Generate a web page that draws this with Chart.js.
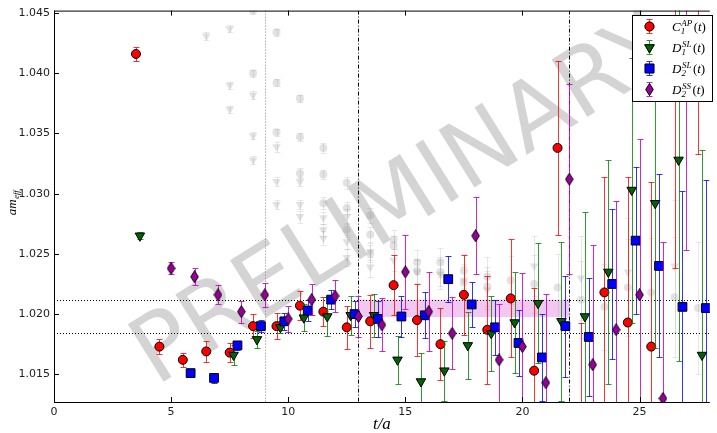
<!DOCTYPE html>
<html><head><meta charset="utf-8">
<script src="https://cdn.jsdelivr.net/npm/chart.js@4/dist/chart.umd.min.js"></script>
<style>html,body{margin:0;padding:0;background:#fff;}canvas{display:block;}</style>
</head><body>
<canvas id="c" width="717" height="433" style="width:717px;height:433px"></canvas>
<script>
// ---- data ----
const tValues = [3,4,5,6,7,8,9,10,11,12,13,14,15,16,17,18,19,20,21,22,23,24,25,26,27];
const c1apValues = [1.0416,1.0173,1.0162,1.0169,1.0168,1.0190,1.0190,1.0207,1.0202,1.0189,1.0194,1.0224,1.0195,1.0175,1.0216,1.0187,1.0213,1.0153,1.0338,1.0121,1.0218,1.0193,1.0173,1.0400,1.0480];
const c1apErrors = [0.0006,0.0006,0.0006,0.0009,0.0008,0.0010,0.0011,0.0012,0.0012,0.0018,0.0022,0.0025,0.0030,0.0030,0.0033,0.0045,0.0049,0.0069,0.0072,0.0072,0.0096,0.0121,0.0137,0.0162,0.0147];
const d1slValues = [1.0265,null,null,null,1.0166,1.0179,1.0189,1.0197,1.0198,1.0199,1.0199,1.0162,1.0144,1.0153,1.0174,1.0184,1.0193,1.0209,1.0194,1.0198,1.0235,1.0303,1.0292,1.0328,1.0166];
const d1slErrors = [0.0003,null,null,null,0.0008,0.0007,0.0005,0.0011,0.0016,0.0016,0.0018,0.0020,0.0024,0.0025,0.0028,0.0031,0.0042,0.0050,0.0066,0.0087,0.0093,0.0110,0.0120,0.0167,0.0170];
const d2slValues = [null,null,1.0151,1.0147,1.0174,1.0190,1.0194,1.0203,1.0212,1.0200,1.0196,1.0198,1.0199,1.0229,1.0208,1.0189,1.0176,1.0164,1.0190,1.0181,1.0225,1.0261,1.0240,1.0206,1.0205];
const d2slErrors = [null,null,0.0002,0.0004,0.0004,0.0005,0.0007,0.0009,0.0008,0.0011,0.0015,0.0017,0.0019,0.0019,0.0019,0.0023,0.0027,0.0036,0.0042,0.0049,0.0062,0.0061,0.0076,0.0096,0.0106];
const d2ssValues = [null,1.0238,1.0231,1.0216,1.0202,1.0216,1.0196,1.0212,1.0215,1.0198,1.0191,1.0235,1.0202,1.0184,1.0265,1.0162,1.0173,1.0143,1.0312,1.0158,1.0187,1.0216,1.0130,1.0410,null];
const d2ssErrors = [null,0.0005,0.0007,0.0008,0.0009,0.0010,0.0011,0.0013,0.0013,0.0017,0.0022,0.0031,0.0033,0.0030,0.0032,0.0046,0.0061,0.0074,0.0079,0.0099,0.0107,0.0129,0.0130,0.0157,null];

// faded background points
const ghostCircleT = [8.5,8.5,9.5,9.5,9.5,10.5,10.5,10.5,11.5,11.5,11.5,12.5,12.5,12.5,13.5,13.5,13.5,14.5,14.5,15.5,15.5,16.5,16.5,17.5,17.5,18.5,18.5,19.5,20.5,21.5,22.5,23.5,24.5,25.5,26.5,27.5];
const ghostCircleV = [1.0452,1.0400,1.0434,1.0392,1.0351,1.0379,1.0347,1.0317,1.0338,1.0316,1.0292,1.0309,1.0288,1.0270,1.0282,1.0266,1.0250,1.0262,1.0257,1.0243,1.0236,1.0243,1.0235,1.0236,1.0226,1.0231,1.0223,1.0228,1.0225,1.0222,1.0212,1.0206,1.0222,1.0218,1.0214,1.0205];
const ghostCircleE = [0.0003,0.0003,0.0003,0.0003,0.0003,0.0003,0.0003,0.0004,0.0004,0.0004,0.0005,0.0005,0.0005,0.0006,0.0006,0.0006,0.0007,0.0008,0.0008,0.0010,0.0010,0.0012,0.0012,0.0014,0.0014,0.0016,0.0016,0.0020,0.0024,0.0028,0.0032,0.0036,0.0040,0.0045,0.0050,0.0055];
const ghostTriT = [6.5,7.5,7.5,7.5,8.5,8.5,8.5,9.5,9.5,9.5,10.5,10.5,10.5,11.5,11.5,11.5,12.5,12.5,12.5,13.5,13.5,14.5,15.5,16.5,17.5,18.5,20.5,22.5,24.5,26.5];
const ghostTriV = [1.0431,1.0437,1.0390,1.0370,1.0382,1.0348,1.0328,1.0339,1.0310,1.0291,1.0310,1.0291,1.0281,1.0280,1.0270,1.0263,1.0281,1.0260,1.0247,1.0252,1.0239,1.0245,1.0235,1.0233,1.0228,1.0220,1.0240,1.0230,1.0235,1.0240];
const ghostTriE = [0.0003,0.0003,0.0003,0.0003,0.0003,0.0003,0.0003,0.0004,0.0004,0.0004,0.0004,0.0004,0.0005,0.0005,0.0005,0.0006,0.0006,0.0006,0.0007,0.0007,0.0008,0.0009,0.0010,0.0012,0.0014,0.0016,0.0025,0.0035,0.0045,0.0055];

// fit window and band
const fitRange = [13, 22];
const plateauBand = [1.01975, 1.0212];
const refLevels = [1.0212, 1.0184];
const cutLine = 9;
const xTickLabels = [0,5,10,15,20,25];
const yTickLabels = [1.015,1.020,1.025,1.030,1.035,1.040,1.045];
const legendLabels = [
  {base:'C', sub:'1', sup:'AP'},
  {base:'D', sub:'1', sup:'SL'},
  {base:'D', sub:'2', sup:'SL'},
  {base:'D', sub:'2', sup:'SS'}
];

// ---- build datasets ----
function build(vals, errs, off){
  const data=[], e=[];
  tValues.forEach((t,i)=>{ if(vals[i]!==null){ data.push({x:t+off,y:vals[i]}); e.push(errs[i]); } });
  return {data, e};
}
function buildPairs(T,V,E){ return {data:T.map((t,i)=>({x:t,y:V[i]})), e:E.slice()}; }

function diamondCanvas(){
  const c=document.createElement('canvas'); c.width=9; c.height=13;
  const g=c.getContext('2d');
  g.beginPath(); g.moveTo(4.5,0.5); g.lineTo(8.3,6.5); g.lineTo(4.5,12.5); g.lineTo(0.7,6.5); g.closePath();
  g.fillStyle='#990099'; g.fill(); g.strokeStyle='#000'; g.lineWidth=1; g.stroke();
  return c;
}
const diamond = diamondCanvas();

const sRed = build(c1apValues, c1apErrors, 0.5);
const sGreen = build(d1slValues, d1slErrors, 0.667);
const sBlue = build(d2slValues, d2slErrors, 0.833);
const sPurple = build(d2ssValues, d2ssErrors, 1.0);
const gC = buildPairs(ghostCircleT, ghostCircleV, ghostCircleE);
const gT = buildPairs(ghostTriT, ghostTriV, ghostTriE);

const datasets = [
  {label:'D2SS', data:sPurple.data, errs:sPurple.e, errColor:'rgba(200,0,200,0.85)', pointStyle:diamond, pointRadius:6, showLine:false},
  {label:'D2SL', data:sBlue.data, errs:sBlue.e, errColor:'rgba(0,0,255,0.8)', pointStyle:'rect', pointRadius:6.2, backgroundColor:'#0000ff', borderColor:'#000', borderWidth:1, showLine:false},
  {label:'D1SL', data:sGreen.data, errs:sGreen.e, errColor:'rgba(0,128,0,0.8)', pointStyle:'triangle', rotation:180, pointRadius:5.5, backgroundColor:'#006400', borderColor:'#000', borderWidth:1, showLine:false},
  {label:'C1AP', data:sRed.data, errs:sRed.e, errColor:'rgba(255,0,0,0.8)', pointStyle:'circle', pointRadius:4.5, backgroundColor:'#ff0000', borderColor:'#000', borderWidth:1, showLine:false},
  {label:'gc', data:gC.data, errs:gC.e, errColor:'rgba(150,150,150,0.22)', pointStyle:'circle', pointRadius:4, backgroundColor:'rgba(150,150,150,0.28)', borderColor:'rgba(150,150,150,0.0)', borderWidth:0, showLine:false},
  {label:'gt', data:gT.data, errs:gT.e, errColor:'rgba(150,150,150,0.22)', pointStyle:'triangle', rotation:180, pointRadius:5, backgroundColor:'rgba(150,150,150,0.28)', borderColor:'rgba(150,150,150,0.0)', borderWidth:0, showLine:false}
];

const deco = {
  id:'deco',
  beforeDatasetsDraw(chart){
    const {ctx, chartArea:a, scales:{x,y}} = chart;
    ctx.save();
    ctx.beginPath(); ctx.rect(a.left,a.top,a.right-a.left,a.bottom-a.top); ctx.clip();
    // watermark
    ctx.save();
    ctx.translate(404, 203);
    ctx.rotate(-32*Math.PI/180);
    ctx.font = '93px "DejaVu Sans"';
    ctx.textAlign='center'; ctx.textBaseline='middle';
    ctx.fillStyle='rgba(0,0,0,0.17)';
    ctx.fillText('PRELIMINARY',0,0);
    ctx.restore();
    // band
    const bx1=x.getPixelForValue(fitRange[0]), bx2=x.getPixelForValue(fitRange[1]);
    const by1=y.getPixelForValue(plateauBand[1]), by2=y.getPixelForValue(plateauBand[0]);
    ctx.fillStyle='rgba(215,110,215,0.38)';
    ctx.fillRect(bx1,by1,bx2-bx1,by2-by1);
    // horizontal dotted
    ctx.strokeStyle='#000'; ctx.lineWidth=1; ctx.setLineDash([1,2]);
    refLevels.forEach(v=>{ const py=Math.round(y.getPixelForValue(v))+0.5; ctx.beginPath(); ctx.moveTo(a.left,py); ctx.lineTo(a.right,py); ctx.stroke(); });
    // grey vertical
    ctx.strokeStyle='#888'; ctx.setLineDash([1,2]);
    let px=Math.round(x.getPixelForValue(cutLine))+0.5; ctx.beginPath(); ctx.moveTo(px,a.top); ctx.lineTo(px,a.bottom); ctx.stroke();
    // dash-dot verticals
    ctx.strokeStyle='#000'; ctx.setLineDash([4,2,1,2]);
    fitRange.forEach(v=>{ const p=Math.round(x.getPixelForValue(v))+0.5; ctx.beginPath(); ctx.moveTo(p,a.top); ctx.lineTo(p,a.bottom); ctx.stroke(); });
    ctx.restore();
  },
  beforeDatasetDraw(chart, args){
    const ds = chart.data.datasets[args.index];
    if(!ds.errs) return;
    const {ctx, chartArea:a, scales:{x,y}} = chart;
    ctx.save();
    ctx.beginPath(); ctx.rect(a.left,a.top,a.right-a.left,a.bottom-a.top); ctx.clip();
    ctx.strokeStyle = ds.errColor; ctx.lineWidth=1; ctx.setLineDash([]);
    ds.data.forEach((p,i)=>{
      const e = ds.errs[i]; if(e==null) return;
      const px = Math.round(x.getPixelForValue(p.x))+0.5;
      const y1 = Math.round(y.getPixelForValue(p.y+e))+0.5, y2 = Math.round(y.getPixelForValue(p.y-e))+0.5;
      ctx.beginPath();
      ctx.moveTo(px,y1); ctx.lineTo(px,y2);
      ctx.moveTo(px-3,y1); ctx.lineTo(px+3,y1);
      ctx.moveTo(px-3,y2); ctx.lineTo(px+3,y2);
      ctx.stroke();
    });
    ctx.restore();
  },
  afterDraw(chart){
    const {ctx, chartArea:a, scales:{x,y}} = chart;
    ctx.save();
    ctx.strokeStyle='#000'; ctx.lineWidth=1; ctx.setLineDash([]);
    // frame
    ctx.beginPath();
    ctx.moveTo(a.left+0.5,a.top+0.5); ctx.lineTo(a.right,a.top+0.5);
    ctx.moveTo(a.left+0.5,a.top); ctx.lineTo(a.left+0.5,a.bottom+0.5);
    ctx.moveTo(a.left,a.bottom+0.5); ctx.lineTo(a.right,a.bottom+0.5);
    ctx.stroke();
    // inward ticks
    ctx.beginPath();
    x.ticks.forEach(t=>{ const p=Math.round(x.getPixelForValue(t.value))+0.5; ctx.moveTo(p,a.bottom); ctx.lineTo(p,a.bottom-5); ctx.moveTo(p,a.top); ctx.lineTo(p,a.top+5); });
    y.ticks.forEach(t=>{ const p=Math.round(y.getPixelForValue(t.value))+0.5; ctx.moveTo(a.left,p); ctx.lineTo(a.left+5,p); });
    ctx.stroke();
    // axis titles
    ctx.fillStyle='#000';
    ctx.font='italic 17px "Liberation Serif"'; ctx.textAlign='center'; ctx.textBaseline='alphabetic';
    ctx.fillText('t/a',(a.left+a.right)/2,429);
    ctx.save();
    ctx.translate(16,203); ctx.rotate(-Math.PI/2);
    ctx.font='italic 13px "Liberation Serif"';
    const wam=ctx.measureText('am').width;
    ctx.font='italic 8.5px "Liberation Serif"';
    const weff=ctx.measureText('eff').width;
    const x0=-(wam+weff)/2;
    ctx.textAlign='left';
    ctx.font='italic 13px "Liberation Serif"'; ctx.fillText('am',x0,0);
    ctx.font='italic 8.5px "Liberation Serif"'; ctx.fillText('eff',x0+wam+0.5,3);
    ctx.restore();
    // legend
    ctx.fillStyle='#fff'; ctx.fillRect(632.5,15.5,80,86);
    ctx.strokeStyle='#000'; ctx.strokeRect(632.5,15.5,80,86);
    const rows=[26.5,47.5,68.5,89.5];
    const metas=[3,2,1,0];
    rows.forEach((ry,i)=>{
      const ds=chart.data.datasets[metas[i]];
      const mx=649.5;
      ctx.strokeStyle=ds.errColor; ctx.lineWidth=1;
      ctx.beginPath(); ctx.moveTo(mx,ry-7); ctx.lineTo(mx,ry+7);
      ctx.moveTo(mx-3,ry-7); ctx.lineTo(mx+3,ry-7); ctx.moveTo(mx-3,ry+7); ctx.lineTo(mx+3,ry+7); ctx.stroke();
      if(ds.pointStyle===diamond){ ctx.drawImage(diamond, mx-4.5, ry-6.5); }
      else {
        Chart.helpers.drawPoint(ctx, {pointStyle:ds.pointStyle, rotation:ds.rotation||0, radius:ds.pointRadius, borderWidth:1}, mx, ry);
        ctx.fillStyle=ds.backgroundColor; ctx.strokeStyle='#000'; ctx.lineWidth=1; ctx.fill(); ctx.stroke();
      }
      const L=legendLabels[i];
      ctx.fillStyle='#000'; ctx.textAlign='left'; ctx.textBaseline='alphabetic';
      ctx.font='italic 13px "Liberation Serif"';
      const bx=672; ctx.fillText(L.base,bx,ry+4.5);
      const wb=ctx.measureText(L.base).width;
      ctx.font='italic 9px "Liberation Serif"';
      ctx.fillText(L.sup,bx+wb+0.5,ry-0.5);
      const ws=ctx.measureText(L.sup).width;
      ctx.fillText(L.sub,bx+wb,ry+7.5);
      ctx.font='13px "Liberation Serif"';
      const tx=bx+wb+0.5+ws+1.5;
      ctx.fillText('(',tx,ry+4.5);
      const w1=ctx.measureText('(').width;
      ctx.font='italic 13px "Liberation Serif"'; ctx.fillText('t',tx+w1,ry+4.5);
      const w2=ctx.measureText('t').width;
      ctx.font='13px "Liberation Serif"'; ctx.fillText(')',tx+w1+w2,ry+4.5);
    });
    ctx.restore();
  }
};

new Chart(document.getElementById('c'), {
  type:'scatter',
  data:{datasets},
  options:{
    responsive:false, animation:false, devicePixelRatio:1,
    layout:{padding:{top:10,right:0,left:0,bottom:0}},
    plugins:{legend:{display:false}, tooltip:{enabled:false}},
    scales:{
      x:{type:'linear', min:0, max:28,
        grid:{display:false, drawTicks:false, tickLength:0}, border:{display:false},
        ticks:{stepSize:5, includeBounds:false, padding:4, color:'#222', font:{family:'DejaVu Sans', size:11},
          callback:(v)=> xTickLabels.includes(Math.round(v)) && Math.abs(v-Math.round(v))<1e-6 ? String(Math.round(v)) : ''},
        afterFit:(s)=>{ s.height=31; }
      },
      y:{type:'linear', min:1.0127, max:1.0452,
        grid:{display:false, drawTicks:false, tickLength:0}, border:{display:false},
        ticks:{stepSize:0.005, includeBounds:false, padding:4, color:'#222', font:{family:'DejaVu Sans', size:11},
          callback:(v)=>{ const s=v.toFixed(3); return yTickLabels.some(t=>t.toFixed(3)===s)?s:''; }},
        afterFit:(s)=>{ s.width=54; }
      }
    }
  },
  plugins:[deco]
});
</script>
</body></html>
